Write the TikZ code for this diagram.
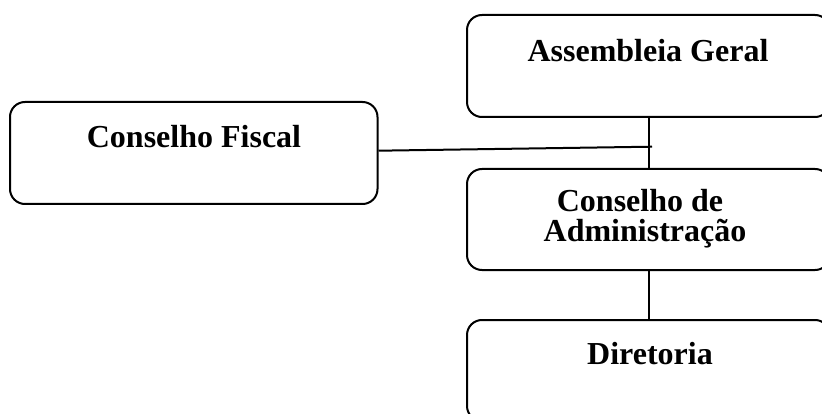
\documentclass[tikz,border=0pt]{standalone}
\usepackage{fontspec}
\setmainfont{Liberation Serif}
\begin{document}
\begin{tikzpicture}[x=1pt,y=-1pt,
  orgbox/.style={draw=black,line width=2pt,rounded corners=15pt,inner sep=0pt},
  orgtext/.style={font=\bfseries\fontsize{32}{30}\selectfont,inner sep=0pt,anchor=base},
  link/.style={draw=black,line width=2pt}]
\useasboundingbox (0,0) rectangle (822,414);
\clip (0,0) rectangle (822,414);
\fill[white] (0,0) rectangle (822,414);
% boxes
\node[orgbox,minimum width=363pt,minimum height=102pt] (ag) at (648.5,66) {};
\node[orgbox,minimum width=367.5pt,minimum height=102pt] (cf) at (193.75,153) {};
\node[orgbox,minimum width=363pt,minimum height=101pt] (ca) at (648.5,219.5) {};
\node[orgbox,minimum width=363pt,minimum height=101pt] (dir) at (648.5,370.5) {};
% texts
\node[orgtext] (agt) at (648,62) {Assembleia Geral};
\node[orgtext] (cft) at (194,148) {Conselho Fiscal};
\node[orgtext] (cat1) at (640,212) {Conselho de};
\node[orgtext] (cat2) at (645,242) {Administração};
\node[orgtext] (dirt) at (650,364) {Diretoria};
% connectors
\coordinate (cfend) at (652,146.7);
\draw[link] (ag.south) -- (ca.north);
\draw[link] (ca.south) -- (dir.north);
\draw[link] ([yshift=2.3pt]cf.east) -- (cfend);
\end{tikzpicture}
\end{document}
